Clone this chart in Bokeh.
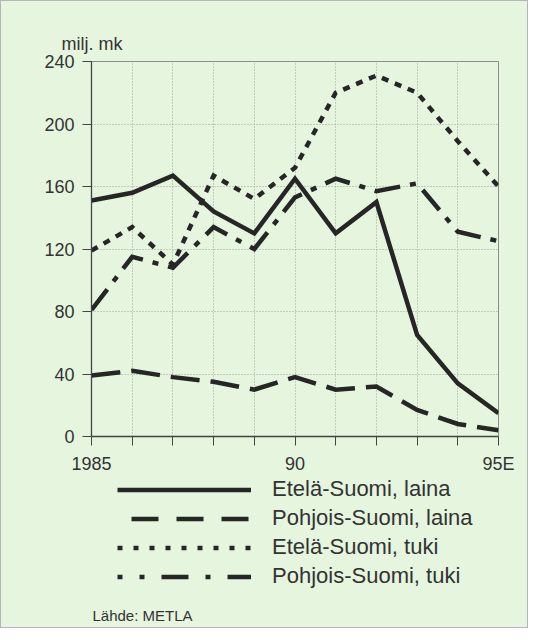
from bokeh.plotting import figure
from bokeh.layouts import column
from bokeh.models import Range1d, FixedTicker, Legend, LegendItem, Label
from bokeh.embed import file_html
from bokeh.resources import INLINE

# ---- data ----
years = [1985, 1986, 1987, 1988, 1989, 1990, 1991, 1992, 1993, 1994, 1995]
etela_laina = [151, 156, 167, 144, 130, 165, 130, 150, 65, 34, 15]
pohjois_laina = [39, 42, 38, 35, 30, 38, 30, 32, 17, 8, 4]
etela_tuki = [119, 134, 110, 167, 152, 172, 220, 231, 220, 189, 160]
pohjois_tuki = [81, 115, 108, 134, 120, 153, 165, 157, 162, 131, 125]

series_names = ["Etelä-Suomi, laina", "Pohjois-Suomi, laina",
                "Etelä-Suomi, tuki", "Pohjois-Suomi, tuki"]
series_values = [etela_laina, pohjois_laina, etela_tuki, pohjois_tuki]
x_tick_labels = {1985: "1985", 1990: "90", 1995: "95E"}
y_ticks = [0, 40, 80, 120, 160, 200, 240]
unit_label = "milj. mk"
source_text = "Lähde: METLA"

BG = "#e5f5de"
INK = "#262626"
TXT = "#333333"
FONT = "Liberation Sans"
LW = 4.5
chart_styles = [dict(line_dash="solid"),
                dict(line_dash="29 11"),
                dict(line_dash="7 7"),
                dict(line_dash="26 10 6 10")]
legend_styles = [dict(line_dash="solid"),
                 dict(line_dash="27 18", line_dash_offset=31),
                 dict(line_dash="5 11"),
                 dict(line_dash="27 17 5 17", line_dash_offset=22)]

W = 526
p = figure(width=W, height=475, output_backend="svg", toolbar_location=None,
           x_range=Range1d(1985, 1995), y_range=Range1d(0, 240),
           min_border_left=90, min_border_right=29,
           min_border_top=60, min_border_bottom=40)
p.frame_align = False
p.background_fill_color = BG
p.border_fill_color = BG
p.outline_line_color = "#8c8c8c"
p.outline_line_width = 1

# unit label as title
p.title.text = unit_label
p.title.align = "left"
p.title.offset = -30
p.title.standoff = 16
p.title.text_font = FONT
p.title.text_font_size = "18px"
p.title.text_font_style = "normal"
p.title.text_color = TXT

# axes
xt = FixedTicker(ticks=years)
yt = FixedTicker(ticks=y_ticks)
p.xaxis.ticker = xt
p.yaxis.ticker = yt
p.xaxis.major_label_overrides = {y: x_tick_labels.get(y, "") for y in years}
for ax in (p.xaxis[0], p.yaxis[0]):
    ax.axis_line_color = "#444444"
    ax.axis_line_width = 1.3
    ax.major_tick_line_color = "#444444"
    ax.major_tick_line_width = 1
    ax.major_tick_out = 9
    ax.major_tick_in = 0
    ax.minor_tick_line_color = None
    ax.major_label_text_font = FONT
    ax.major_label_text_font_size = "18px"
    ax.major_label_text_color = TXT
p.xaxis.major_label_standoff = 8
p.yaxis.major_label_standoff = 8

# grid
p.xgrid.ticker = xt
p.ygrid.ticker = yt
for g in (p.xgrid[0], p.ygrid[0]):
    g.grid_line_color = "#8a9a8a"
    g.grid_line_dash = "1 2"
    g.grid_line_width = 1
    g.grid_line_alpha = 0.85

for vals, st in zip(series_values, chart_styles):
    p.line(years, vals, line_color=INK, line_width=LW, line_cap="butt",
           line_join="miter", **st)

# ---- legend panel (second figure; its lines fall outside its view) ----
H2 = 151
p2 = figure(width=W, height=H2, output_backend="svg", toolbar_location=None,
            x_range=Range1d(0, W), y_range=Range1d(0, H2),
            x_axis_location=None, y_axis_location=None,
            min_border=0, min_border_left=0, min_border_right=0,
            min_border_top=0, min_border_bottom=0)
p2.frame_align = False
p2.background_fill_color = BG
p2.border_fill_color = BG
p2.outline_line_color = None
p2.grid.visible = False

rs = [p2.line(years, vals, line_color=INK, line_width=LW, line_cap="butt", **st)
      for vals, st in zip(series_values, legend_styles)]

legend = Legend(items=[LegendItem(label=n, renderers=[r])
                       for n, r in zip(series_names, rs)],
                location=(116, 38), orientation="vertical",
                glyph_width=134, glyph_height=25, label_height=25,
                spacing=3, label_standoff=21, padding=0, margin=0,
                background_fill_alpha=0, border_line_alpha=0,
                label_text_font=FONT, label_text_font_size="22px",
                label_text_color=TXT)
p2.add_layout(legend, "center")

p2.add_layout(Label(x=91, y=12, text=source_text, text_font=FONT,
                    text_font_size="15px", text_color=TXT,
                    text_baseline="middle"))

layout = column(p, p2, spacing=0,
                styles={"border": "1px solid #b5b5b5", "background": BG})
open("out.html", "w").write(file_html(layout, INLINE))
